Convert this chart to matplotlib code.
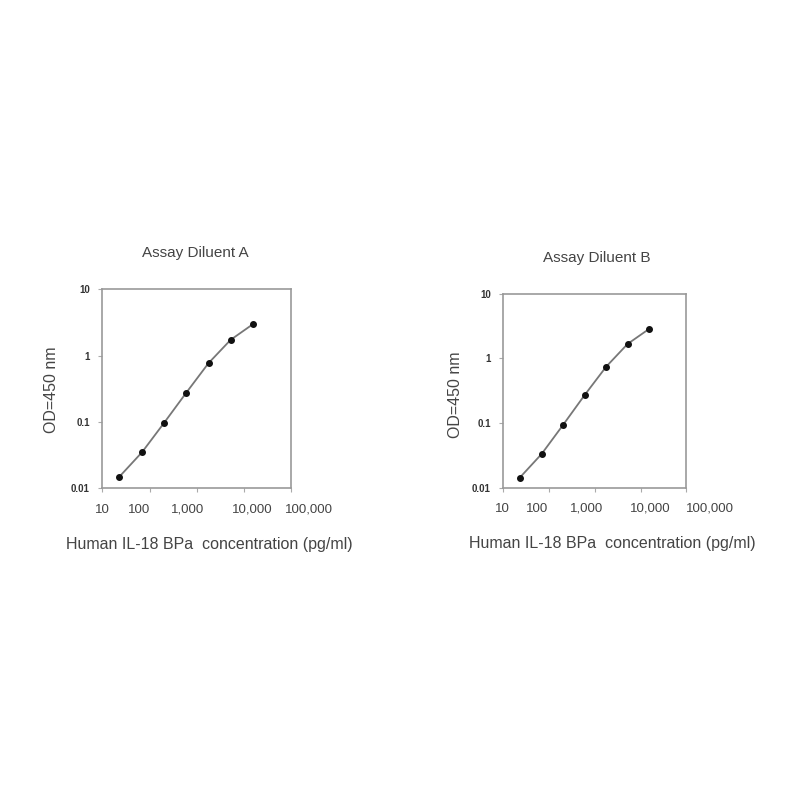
import matplotlib.pyplot as plt
import matplotlib.transforms as mtransforms
from matplotlib.ticker import FixedLocator, NullLocator

plt.rcParams['font.family'] = ['Liberation Sans', 'DejaVu Sans']

# standard curve concentrations (pg/ml)
conc = [23, 69, 200, 600, 1770, 5200, 15500]
od_a = [0.0150, 0.0349, 0.0955, 0.276, 0.767, 1.72, 2.97]
od_b = [0.0142, 0.0330, 0.0916, 0.269, 0.738, 1.66, 2.85]

x_ticks = [10, 100, 1000, 10000, 100000]
x_labels = ['10', '100', '1,000', '10,000', '100,000']
y_ticks = [0.01, 0.1, 1, 10]
y_labels = ['0.01', '0.1', '1', '10']

titles = ['Assay Diluent A', 'Assay Diluent B']
xlabel = 'Human IL-18 BPa  concentration (pg/ml)'
ylabel = 'OD=450 nm'

fig = plt.figure(figsize=(8, 8), dpi=100)

# the original's x tick labels sit a bit off their ticks (pixels)
label_shift_a = [0, -11, -9, 8, 18]
label_shift_b = [-1, -12, -8, 10, 24]

panels = [
    # axes rect, title pos, ylabel pos, xlabel pos
    ([0.128, 0.3896, 0.236, 0.249], (0.244, 0.684), (0.065, 0.5125), (0.262, 0.319), od_a, titles[0], label_shift_a),
    ([0.629, 0.3906, 0.229, 0.2425], (0.746, 0.678), (0.569, 0.506), (0.765, 0.321), od_b, titles[1], label_shift_b),
]

for rect, tpos, ypos, xpos, od, title, shifts in panels:
    ax = fig.add_axes(rect)
    ax.plot(conc, od, color='#777777', linewidth=1.3, marker='o', markersize=4,
            markerfacecolor='#111111', markeredgecolor='#111111')
    ax.set_xscale('log')
    ax.set_yscale('log')
    ax.set_xlim(10, 100000)
    ax.set_ylim(0.01, 10)
    ax.xaxis.set_major_locator(FixedLocator(x_ticks))
    ax.xaxis.set_minor_locator(NullLocator())
    ax.yaxis.set_major_locator(FixedLocator(y_ticks))
    ax.yaxis.set_minor_locator(NullLocator())
    ax.set_xticklabels(x_labels)
    ax.set_yticklabels(y_labels)
    ax.tick_params(axis='x', labelsize=9.5, length=3, color='#aaaaaa', pad=8, labelcolor='#444444')
    ax.tick_params(axis='y', labelsize=7, length=3, color='#aaaaaa', pad=6, labelcolor='#333333')
    for lbl in ax.get_yticklabels():
        lbl.set_fontweight('bold')
    for lbl, dx in zip(ax.get_xticklabels(), shifts):
        offset = mtransforms.ScaledTranslation(dx / 100, 0, fig.dpi_scale_trans)
        lbl.set_transform(lbl.get_transform() + offset)
    for sp in ax.spines.values():
        sp.set_color('#999999')
        sp.set_linewidth(1.2)
    fig.text(tpos[0], tpos[1], title, ha='center', va='center', fontsize=11, color='#444444')
    fig.text(ypos[0], ypos[1], ylabel, ha='center', va='center', rotation=90, fontsize=11.5, color='#444444')
    fig.text(xpos[0], xpos[1], xlabel, ha='center', va='center', fontsize=11.5, color='#444444')

fig.savefig('out.png', dpi=100, facecolor='white')
